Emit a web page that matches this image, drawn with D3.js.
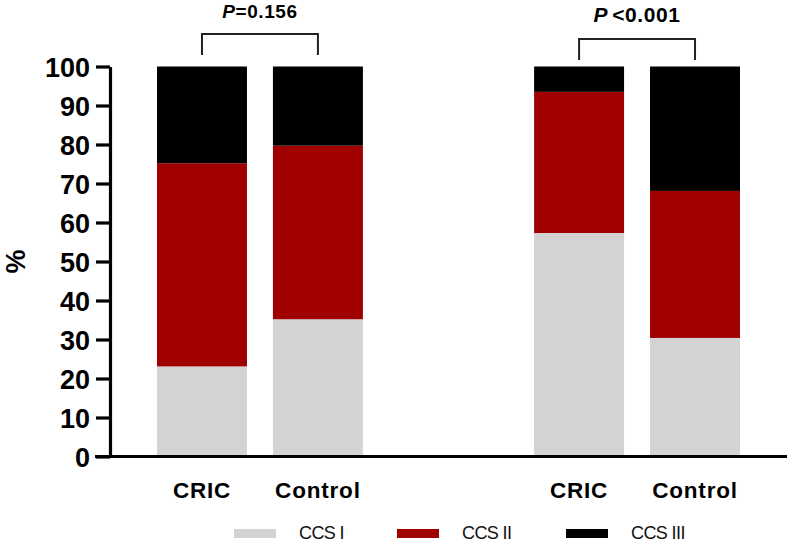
<!DOCTYPE html>
<html>
<head>
<meta charset="utf-8">
<script src="https://cdn.jsdelivr.net/npm/d3@7"></script>
<style>
  body { margin: 0; background: #fff; }
  svg { display: block; font-family: "Liberation Sans", Arial, sans-serif; }
</style>
</head>
<body>
<svg width="789" height="544"></svg>
<script>
const groups = ['left', 'right'];
const arms = ['CRIC', 'Control'];
const stages = ['CCS I', 'CCS II', 'CCS III'];
const pLabels = ['=0.156', '<0.001'];

// percent per stage, one entry per group/arm
const ccs1 = [[23.1, 35.2], [57.3, 30.4]];
const ccs2 = [[52.1, 44.5], [36.2, 37.7]];
const ccs3 = [[24.8, 20.3], [6.5, 31.9]];

const colors = ['#d3d3d3', '#a00000', '#000000'];

const svg = d3.select('svg');

const rows = [];
groups.forEach((g, gi) => {
  arms.forEach((a, ai) => {
    rows.push({ group: g, arm: a, 'CCS I': ccs1[gi][ai], 'CCS II': ccs2[gi][ai], 'CCS III': ccs3[gi][ai] });
  });
});

const series = d3.stack().keys(stages)(rows);

const x0 = d3.scaleBand()
  .domain(groups)
  .range([157, 740])
  .paddingInner(0.454);

const x1 = d3.scaleBand()
  .domain(arms)
  .range([0, x0.bandwidth()])
  .paddingInner(0.224);

const yScale = d3.scaleLinear()
  .domain([0, 100])
  .range([456.5, 66.5]);

const barX = d => x0(d.data.group) + x1(d.data.arm);

// bars
svg.append('g')
  .selectAll('g')
  .data(series)
  .join('g')
    .attr('fill', (d, i) => colors[i])
  .selectAll('rect')
  .data(d => d)
  .join('rect')
    .attr('x', barX)
    .attr('width', x1.bandwidth())
    .attr('y', d => yScale(d[1]))
    .attr('height', d => yScale(d[0]) - yScale(d[1]));

// y axis
const yAxis = d3.axisLeft(yScale)
  .tickValues(d3.range(0, 101, 10))
  .tickSize(14)
  .tickPadding(6)
  .tickSizeOuter(0);

const yAxisG = svg.append('g')
  .attr('transform', 'translate(110,0)')
  .call(yAxis);
yAxisG.select('.domain').attr('stroke-width', 3.2);
yAxisG.selectAll('.tick line').attr('stroke-width', 3.2);
yAxisG.selectAll('.tick text')
  .attr('font-size', 27)
  .attr('font-weight', 'bold')
  .attr('fill', '#000')
  .attr('dy', '0.36em');

svg.append('text')
  .attr('transform', `translate(25,${yScale(50)}) rotate(-90)`)
  .attr('text-anchor', 'middle')
  .attr('font-size', 27)
  .attr('font-weight', 'bold')
  .text('%');

// x axis line
svg.append('line')
  .attr('x1', 95).attr('x2', 787)
  .attr('y1', yScale(0)).attr('y2', yScale(0))
  .attr('stroke', '#000')
  .attr('stroke-width', 3.2);

// arm labels
svg.append('g')
  .selectAll('text')
  .data(rows)
  .join('text')
    .attr('x', d => x0(d.group) + x1(d.arm) + x1.bandwidth() / 2)
    .attr('y', 498)
    .attr('text-anchor', 'middle')
    .attr('font-size', 22.5)
    .attr('font-weight', 'bold')
    .attr('letter-spacing', 0.8)
    .text(d => d.arm);

// brackets and p values
const bracketTop = [34, 39];
const pSize = [19, 21];
groups.forEach((g, gi) => {
  const xa = x0(g) + x1('CRIC') + x1.bandwidth() / 2;
  const xb = x0(g) + x1('Control') + x1.bandwidth() / 2;
  const top = bracketTop[gi];
  svg.append('path')
    .attr('d', `M${xa},${top + 21}V${top}H${xb}V${top + 21}`)
    .attr('fill', 'none')
    .attr('stroke', '#222')
    .attr('stroke-width', 2);
  const t = svg.append('text')
    .attr('x', (xa + xb) / 2)
    .attr('y', gi === 0 ? 18 : 22)
    .attr('text-anchor', 'middle')
    .attr('font-size', pSize[gi])
    .attr('font-weight', 'bold')
    .attr('letter-spacing', 0.6);
  t.append('tspan').attr('font-style', 'italic').text('P');
  t.append('tspan').attr('dx', gi === 0 ? 0 : 4).text(pLabels[gi]);
});

// legend
const legendX = [234, 397, 566];
const legend = svg.append('g')
  .selectAll('g')
  .data(stages)
  .join('g')
    .attr('transform', (d, i) => `translate(${legendX[i]},529)`);
legend.append('rect')
  .attr('width', 42)
  .attr('height', 9)
  .attr('fill', (d, i) => colors[i]);
legend.append('text')
  .attr('x', 65)
  .attr('y', 10)
  .attr('font-size', 18)
  .attr('letter-spacing', -0.6)
  .attr('fill', '#111')
  .text(d => d);
</script>
</body>
</html>
